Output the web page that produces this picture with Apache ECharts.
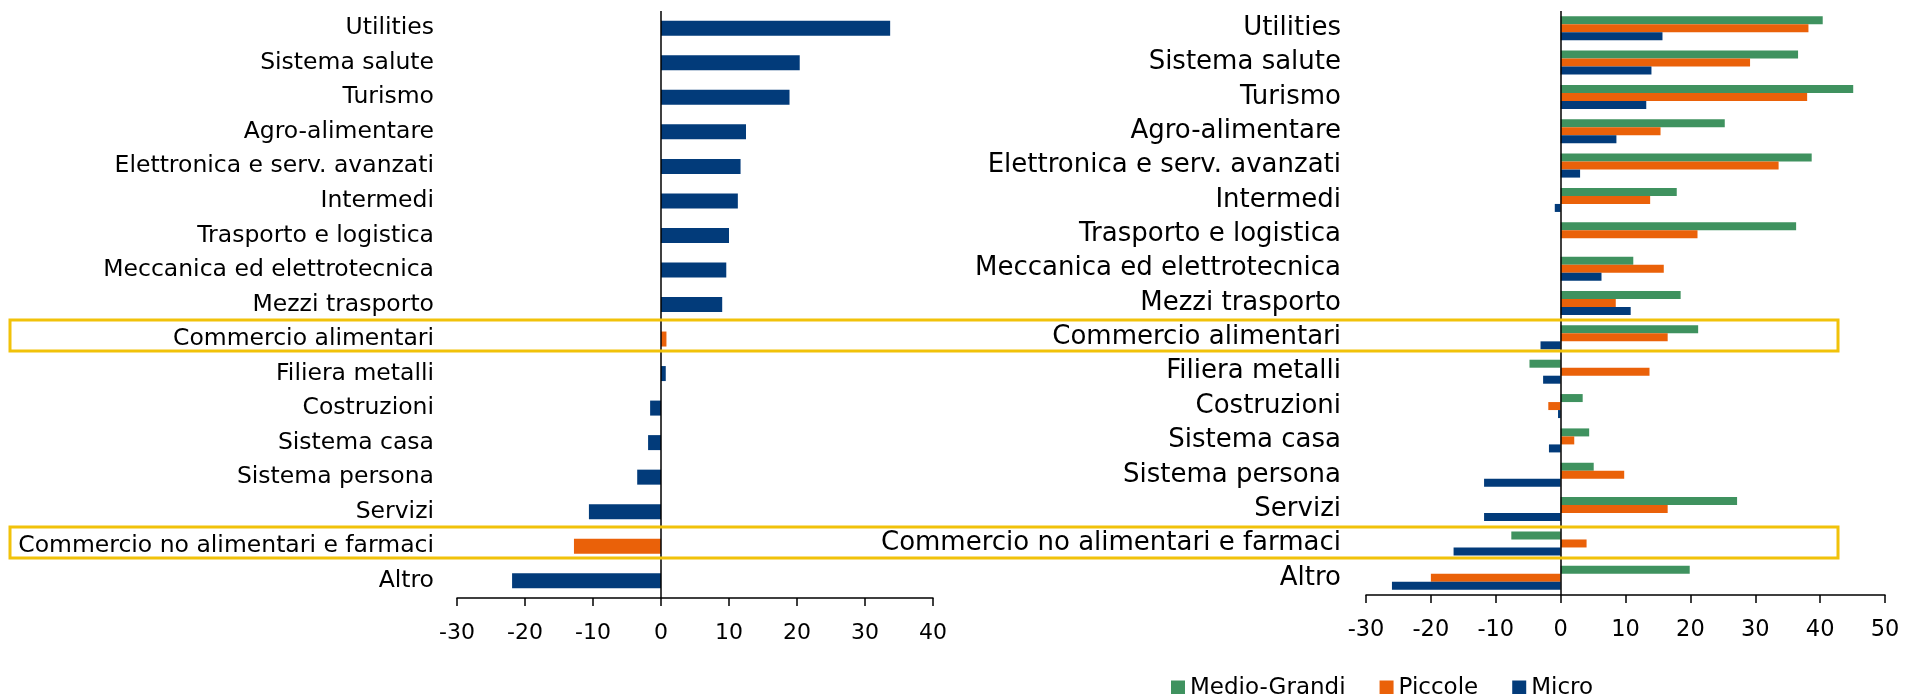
<!DOCTYPE html>
<html>
<head>
<meta charset="utf-8">
<script src="https://cdn.jsdelivr.net/npm/echarts@6/dist/echarts.min.js"></script>
<style>
  html, body { margin: 0; padding: 0; background: #fff; }
  #chart { width: 1905px; height: 694px; }
</style>
</head>
<body>
<div id="chart"></div>
<script>
// categorie (dall'alto verso il basso)
const categories = [
  'Utilities', 'Sistema salute', 'Turismo', 'Agro-alimentare',
  'Elettronica e serv. avanzati', 'Intermedi', 'Trasporto e logistica',
  'Meccanica ed elettrotecnica', 'Mezzi trasporto', 'Commercio alimentari',
  'Filiera metalli', 'Costruzioni', 'Sistema casa', 'Sistema persona',
  'Servizi', 'Commercio no alimentari e farmaci', 'Altro'
];
const highlighted = ['Commercio alimentari', 'Commercio no alimentari e farmaci'];

// grafico di sinistra
const totale = [33.7, 20.4, 18.9, 12.5, 11.7, 11.3, 10.0, 9.6, 9.0, 0.8, 0.7, -1.6, -1.9, -3.5, -10.6, -12.8, -21.9];

// grafico di destra
const medioGrandi = [40.4, 36.6, 45.1, 25.3, 38.7, 17.9, 36.3, 11.2, 18.5, 21.2, -4.8, 3.4, 4.4, 5.1, 27.2, -7.6, 19.9];
const piccole = [38.2, 29.2, 38.0, 15.4, 33.6, 13.8, 21.1, 15.9, 8.5, 16.5, 13.7, -1.9, 2.1, 9.8, 16.5, 4.0, -20.0];
const micro = [15.7, 14.0, 13.2, 8.6, 3.0, -0.9, 0, 6.3, 10.8, -3.1, -2.7, -0.4, -1.8, -11.8, -11.8, -16.5, -26.0];

const leftTicks = [-30, 40];
const rightTicks = [-30, 50];

const BLUE = '#023b7a', ORANGE = '#ea6109', GREEN = '#3f925f', YELLOW = '#f1c20a';
const FONT = 'DejaVu Sans';

let myChart = echarts.init(document.getElementById('chart'));

// linea verticale sullo zero
function zeroLine() {
  return {
    silent: true,
    symbol: 'none',
    label: { show: false },
    lineStyle: { color: '#000', width: 1.5, type: 'solid' },
    data: [{ xAxis: 0 }]
  };
}

var option = {
  animation: false,
  textStyle: { fontFamily: FONT },
  grid: [
    { left: 457, right: 972, top: 11, bottom: 96 },
    { left: 1366, right: 20, top: 11, bottom: 99 }
  ],
  legend: {
    data: ['Medio-Grandi', 'Piccole', 'Micro'],
    left: 1166,
    top: 671,
    itemWidth: 14,
    itemHeight: 15,
    itemGap: 34,
    icon: 'rect',
    textStyle: { fontFamily: FONT, fontSize: 23, color: '#000', lineHeight: 24 }
  },
  xAxis: [
    {
      type: 'value', gridIndex: 0, min: leftTicks[0], max: leftTicks[1], interval: 10,
      splitLine: { show: false },
      axisLine: { show: true, onZero: false, lineStyle: { color: '#000', width: 1.5 } },
      axisTick: { show: true, length: 8, lineStyle: { color: '#000', width: 1.5 } },
      axisLabel: { fontFamily: FONT, fontSize: 22, color: '#000', margin: 24 }
    },
    {
      type: 'value', gridIndex: 1, min: rightTicks[0], max: rightTicks[1], interval: 10,
      splitLine: { show: false },
      axisLine: { show: true, onZero: false, lineStyle: { color: '#000', width: 1.5 } },
      axisTick: { show: true, length: 8, lineStyle: { color: '#000', width: 1.5 } },
      axisLabel: { fontFamily: FONT, fontSize: 22.5, color: '#000', margin: 24 }
    }
  ],
  yAxis: [
    {
      type: 'category', gridIndex: 0, inverse: true, data: categories,
      axisLine: { show: false, onZero: false },
      axisTick: { show: false },
      axisLabel: { fontFamily: FONT, fontSize: 23.5, color: '#000', margin: 23, interval: 0 }
    },
    {
      type: 'category', gridIndex: 1, inverse: true, data: categories,
      axisLine: { show: false, onZero: false },
      axisTick: { show: false },
      axisLabel: { fontFamily: FONT, fontSize: 26, color: '#000', margin: 25, interval: 0 }
    }
  ],
  series: [
    {
      name: 'Totale',
      type: 'bar',
      xAxisIndex: 0, yAxisIndex: 0,
      barWidth: 15,
      itemStyle: { color: BLUE },
      data: totale.map(function (v, i) {
        if (highlighted.indexOf(categories[i]) >= 0) {
          return { value: v, itemStyle: { color: ORANGE } };
        }
        return v;
      }),
      markLine: zeroLine()
    },
    {
      name: 'Medio-Grandi',
      type: 'bar',
      xAxisIndex: 1, yAxisIndex: 1,
      barWidth: 8, barGap: '0%',
      itemStyle: { color: GREEN },
      data: medioGrandi,
      markLine: zeroLine()
    },
    {
      name: 'Piccole',
      type: 'bar',
      xAxisIndex: 1, yAxisIndex: 1,
      barWidth: 8, barGap: '0%',
      itemStyle: { color: ORANGE },
      data: piccole
    },
    {
      name: 'Micro',
      type: 'bar',
      xAxisIndex: 1, yAxisIndex: 1,
      barWidth: 8, barGap: '0%',
      itemStyle: { color: BLUE },
      data: micro
    }
  ],
  graphic: [
    {
      type: 'rect', silent: true, z: 10,
      shape: { x: 10, y: 320, width: 1828, height: 31 },
      style: { fill: 'none', stroke: YELLOW, lineWidth: 3 }
    },
    {
      type: 'rect', silent: true, z: 10,
      shape: { x: 10, y: 527, width: 1828, height: 31 },
      style: { fill: 'none', stroke: YELLOW, lineWidth: 3 }
    }
  ]
};

myChart.setOption(option);
</script>
</body>
</html>
